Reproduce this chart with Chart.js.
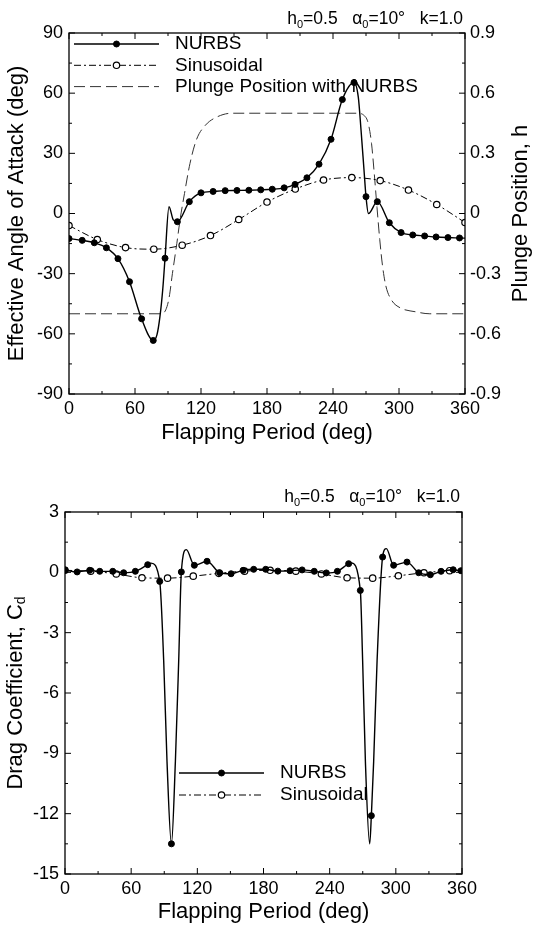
<!DOCTYPE html>
<html>
<head>
    <meta charset="utf-8">
    <title>Effective angle of attack and drag, NURBS vs sinusoidal</title>
    <style>
        body {
            margin: 0;
            background-color: #fff;
        }

        canvas {
            display: block;
        }
    </style>
    <script src="https://cdn.jsdelivr.net/npm/chart.js@4"></script>
</head>
<body>

    <canvas id="alpha-chart" width="533" height="460"></canvas>
    <canvas id="drag-chart" width="533" height="465"></canvas>

    <script>
        // axis ticks
        const periodTicks = [0, 60, 120, 180, 240, 300, 360];
        const alphaTicks = [-90, -60, -30, 0, 30, 60, 90];
        const plungeTicks = [-0.9, -0.6, -0.3, 0, 0.3, 0.6, 0.9];
        const dragTicks = [-15, -12, -9, -6, -3, 0, 3];

        // effective angle of attack, NURBS (filled markers)
        const alphaNurbsX = [0, 12, 23, 34, 44.5, 55, 66, 76.6, 87.3, 98.5, 109.4, 120, 131, 142, 152.7, 163.5, 174.3,
            184.8, 195.6, 205.5, 216.3, 227.3, 238.2, 248.5, 259.1, 270, 280.3, 291.2, 301.9, 312.5, 323.3, 333.7, 344.5, 355];
        const alphaNurbsY = [-12.5, -13.4, -14.6, -17.1, -22.5, -34, -52.5, -63.3, -22.3, -4.1, 5.9, 10.3, 11, 11.4, 11.5, 11.6, 11.8,
            12.1, 12.8, 14.5, 17.8, 24.6, 37, 56.8, 65.3, 8.4, 5.9, -4.6, -9.5, -10.7, -11.2, -11.7, -12, -12.2];
        // points of the NURBS curve that carry no marker
        const alphaNurbsBendX = [80, 82.7, 85.2, 90.9, 94.8, 263, 265.5, 268.2, 272.2, 360];
        const alphaNurbsBendY = [-60.4, -51.3, -38, 3.4, -3.2, 58, 41.5, 21.6, 0, -12.3];

        // effective angle of attack, sinusoidal (open markers)
        const alphaSinX = [0, 25.7, 51.4, 77.1, 102.9, 128.6, 154.3, 180, 205.7, 231.4, 257.1, 282.9, 308.6, 334.3, 360];
        const alphaSinY = [-6, -13, -17, -17.8, -15.8, -11, -3, 5.7, 12.2, 16.7, 17.9, 16.4, 11.7, 4.5, -4.5];

        // plunge position h (right axis)
        const plungeX = [0, 84, 88, 91, 94, 98, 101, 105, 110, 116, 124, 134, 148, 262, 268, 272, 275, 277.5, 280, 282.5,
            285, 288, 293, 301, 315, 328, 360];
        const plungeY = [-0.5, -0.5, -0.48, -0.42, -0.3, -0.15, -0.03, 0.1, 0.25, 0.37, 0.44, 0.48, 0.5, 0.5, 0.49, 0.45,
            0.35, 0.2, 0.03, -0.13, -0.26, -0.36, -0.43, -0.47, -0.49, -0.5, -0.5];

        // drag coefficient, NURBS
        const dragNurbsX = [0, 11, 22.4, 31.5, 43.3, 53.2, 63.8, 75, 85.9, 96.5, 105.5, 117.3, 128.8, 140.3, 150.6, 161.5, 171.1,
            182, 193, 204, 215, 226, 237, 247, 257.2, 267.8, 277.8, 288, 298, 310.1, 320.7, 331.3, 341, 352, 359];
        const dragNurbsY = [0.12, 0.02, 0.1, 0.05, 0.05, -0.02, 0.05, 0.38, -0.45, -13.5, 0.02, 0.35, 0.55, -0.02, -0.07, 0.1, 0.15,
            0.15, 0.06, 0.08, 0.12, 0.05, -0.03, 0.05, 0.43, -0.9, -12.1, 0.76, 0.35, 0.51, -0.02, -0.12, 0.05, 0.13, 0.08];
        const dragNurbsBendX = [78, 89.5, 92.5, 100.1, 103.1, 110, 259.5, 269.9, 272.4, 276.3, 279.9, 283, 291.4];
        const dragNurbsBendY = [0.46, -4.4, -9.4, -9.4, -4.4, 1.13, 0.47, -4.4, -9.4, -13.5, -9.4, -4.4, 1.18];

        // drag coefficient, sinusoidal
        const dragSinX = [0, 23.3, 46.5, 69.8, 93, 116.3, 139.5, 162.8, 186, 209.3, 232.5, 255.8, 279, 302.3, 325.5, 348.8];
        const dragSinY = [0.1, 0.06, -0.08, -0.27, -0.29, -0.19, -0.05, 0.06, 0.1, 0.06, -0.08, -0.27, -0.29, -0.17, -0.02, 0.08];
        const dragSinBendX = [360];
        const dragSinBendY = [0.1];

        const seriesNames = ['NURBS', 'Sinusoidal', 'Plunge Position with NURBS'];
        const noteParts = [['h', 0], ['0', 1], ['=0.5', 0], ['   ', 0], ['\u03b1', 0], ['0', 1], ['=10\u00b0', 0], ['   ', 0], ['k=1.0', 0]];
        const plungeTitle = [['Plunge Position, h', 0]];
        const dragTitle = [['Drag Coefficient, C', 0], ['d', 1]];

        const fontFamily = "'Liberation Sans', Arial, sans-serif";

        // marked points plus unmarked bend points, sorted along x
        function curve(xs, ys, bendXs, bendYs) {
            const pts = xs.map((x, i) => ({ x: x, y: ys[i], mark: true }));
            (bendXs || []).forEach((x, i) => pts.push({ x: x, y: bendYs[i], mark: false }));
            return pts.sort((a, b) => a.x - b.x);
        }

        function nurbsSet(points) {
            return {
                label: seriesNames[0],
                data: points,
                borderColor: '#000',
                borderWidth: 1.4,
                markerRadius: 3,
                pointRadius: ctx => (ctx.raw && ctx.raw.mark ? 3 : 0),
                pointBackgroundColor: '#000',
                pointBorderColor: '#000',
                pointBorderWidth: 1,
                cubicInterpolationMode: 'monotone',
                yAxisID: 'y'
            };
        }

        function sinSet(points) {
            return {
                label: seriesNames[1],
                data: points,
                borderColor: '#000',
                borderWidth: 1,
                borderDash: [7, 3, 2, 3],
                markerRadius: 3.2,
                pointRadius: ctx => (ctx.raw && ctx.raw.mark ? 3.2 : 0),
                pointBackgroundColor: '#fff',
                pointBorderColor: '#000',
                pointBorderWidth: 1.2,
                cubicInterpolationMode: 'monotone',
                yAxisID: 'y'
            };
        }

        // text with subscripts, starting at x on baseline y
        function richWidth(ctx, parts, size) {
            let w = 0;
            parts.forEach(([t, sub]) => {
                ctx.font = (sub ? Math.round(size * 0.62) : size) + 'px ' + fontFamily;
                w += ctx.measureText(t).width;
            });
            return w;
        }

        function richText(ctx, parts, size, x, y) {
            parts.forEach(([t, sub]) => {
                ctx.font = (sub ? Math.round(size * 0.62) : size) + 'px ' + fontFamily;
                ctx.fillText(t, x, sub ? y + size * 0.24 : y);
                x += ctx.measureText(t).width;
            });
        }

        // frame with inward major and minor ticks
        const framePlugin = {
            id: 'frame',
            afterDatasetsDraw(chart, args, opts) {
                const { ctx, chartArea: a, scales } = chart;
                ctx.save();
                ctx.strokeStyle = '#000';
                ctx.lineWidth = 1.3;
                ctx.setLineDash([]);
                ctx.strokeRect(a.left, a.top, a.right - a.left, a.bottom - a.top);
                ctx.lineWidth = 1;
                opts.marks.forEach(m => {
                    const scale = scales[m.axis];
                    const minor = m.major.slice(1).map((v, i) => (v + m.major[i]) / 2);
                    const lists = [[m.major, 6], [minor, 3]];
                    lists.forEach(([values, len]) => {
                        values.forEach(v => {
                            const p = scale.getPixelForValue(v);
                            m.edges.forEach(edge => {
                                ctx.beginPath();
                                if (edge === 'bottom') { ctx.moveTo(p, a.bottom); ctx.lineTo(p, a.bottom - len); }
                                if (edge === 'top') { ctx.moveTo(p, a.top); ctx.lineTo(p, a.top + len); }
                                if (edge === 'left') { ctx.moveTo(a.left, p); ctx.lineTo(a.left + len, p); }
                                if (edge === 'right') { ctx.moveTo(a.right, p); ctx.lineTo(a.right - len, p); }
                                ctx.stroke();
                            });
                        });
                    });
                });
                ctx.restore();
            }
        };

        // legend with line sample + marker
        const keyPlugin = {
            id: 'key',
            afterDraw(chart, args, opts) {
                const { ctx, chartArea: a } = chart;
                ctx.save();
                ctx.font = opts.size + 'px ' + fontFamily;
                ctx.textBaseline = 'middle';
                ctx.textAlign = 'left';
                chart.data.datasets.forEach((ds, i) => {
                    const y = a.top + opts.top + i * opts.row;
                    const x0 = a.left + opts.left;
                    const x1 = x0 + opts.len;
                    ctx.strokeStyle = ds.borderColor;
                    ctx.lineWidth = ds.borderWidth;
                    ctx.setLineDash(ds.borderDash || []);
                    ctx.beginPath();
                    ctx.moveTo(x0, y);
                    ctx.lineTo(x1, y);
                    ctx.stroke();
                    ctx.setLineDash([]);
                    if (ds.markerRadius) {
                        ctx.beginPath();
                        ctx.arc((x0 + x1) / 2, y, ds.markerRadius, 0, Math.PI * 2);
                        ctx.fillStyle = ds.pointBackgroundColor;
                        ctx.fill();
                        ctx.lineWidth = ds.pointBorderWidth;
                        ctx.strokeStyle = ds.pointBorderColor;
                        ctx.stroke();
                    }
                    ctx.fillStyle = '#000';
                    ctx.fillText(ds.label, x1 + opts.gap, y);
                });
                ctx.restore();
            }
        };

        // parameter note above the plot and rotated side titles
        const notePlugin = {
            id: 'note',
            afterDraw(chart, args, opts) {
                const { ctx, chartArea: a } = chart;
                ctx.save();
                ctx.fillStyle = '#000';
                ctx.textAlign = 'left';
                ctx.textBaseline = 'alphabetic';
                const w = richWidth(ctx, noteParts, opts.size);
                richText(ctx, noteParts, opts.size, a.right - 2 - w, a.top - opts.lift);
                (opts.sides || []).forEach(side => {
                    const tw = richWidth(ctx, side.parts, side.size);
                    ctx.save();
                    ctx.translate(side.x, (a.top + a.bottom) / 2);
                    ctx.rotate(-Math.PI / 2);
                    ctx.textBaseline = 'middle';
                    richText(ctx, side.parts, side.size, -tw / 2, 0);
                    ctx.restore();
                });
                ctx.restore();
            }
        };

        function axisTitle(text, pad) {
            return { display: true, text: text, color: '#000', font: { family: fontFamily, size: 22, lineHeight: 1.1 }, padding: pad };
        }

        function tickFont() {
            return { family: fontFamily, size: 18 };
        }

        const alphaChart = new Chart(document.getElementById('alpha-chart').getContext('2d'), {
            type: 'line',
            data: {
                datasets: [
                    nurbsSet(curve(alphaNurbsX, alphaNurbsY, alphaNurbsBendX, alphaNurbsBendY)),
                    sinSet(curve(alphaSinX, alphaSinY)),
                    {
                        label: seriesNames[2],
                        data: plungeX.map((x, i) => ({ x: x, y: plungeY[i] })),
                        borderColor: '#333',
                        borderWidth: 1,
                        borderDash: [11, 5],
                        pointRadius: 0,
                        cubicInterpolationMode: 'monotone',
                        yAxisID: 'y1'
                    }
                ]
            },
            options: {
                responsive: false,
                animation: false,
                events: [],
                layout: { padding: { left: 0, right: 0, top: 33, bottom: 0 } },
                scales: {
                    x: {
                        type: 'linear', min: 0, max: 360,
                        afterBuildTicks: s => { s.ticks = periodTicks.map(v => ({ value: v })); },
                        afterFit: s => { s.height = 66; },
                        grid: { display: false, drawTicks: false }, border: { display: false },
                        ticks: { color: '#000', font: tickFont(), padding: 4, maxRotation: 0, autoSkip: false },
                        title: axisTitle('Flapping Period (deg)', { top: 0, bottom: 15 })
                    },
                    y: {
                        position: 'left', min: -90, max: 90,
                        afterBuildTicks: s => { s.ticks = alphaTicks.map(v => ({ value: v })); },
                        afterFit: s => { s.width = 69; },
                        grid: { display: false, drawTicks: false }, border: { display: false },
                        ticks: { color: '#000', font: tickFont(), padding: 6 },
                        title: axisTitle('Effective Angle of Attack (deg)', { top: 5, bottom: 0 })
                    },
                    y1: {
                        position: 'right', min: -0.9, max: 0.9,
                        afterBuildTicks: s => { s.ticks = plungeTicks.map(v => ({ value: v })); },
                        afterFit: s => { s.width = 68; },
                        grid: { display: false, drawTicks: false }, border: { display: false },
                        ticks: { color: '#000', font: tickFont(), padding: 5, callback: v => (v === 0 ? '0' : v.toFixed(1)) }
                    }
                },
                plugins: {
                    legend: { display: false },
                    tooltip: { enabled: false },
                    frame: {
                        marks: [
                            { axis: 'x', edges: ['bottom', 'top'], major: periodTicks },
                            { axis: 'y', edges: ['left'], major: alphaTicks },
                            { axis: 'y1', edges: ['right'], major: plungeTicks }
                        ]
                    },
                    key: { left: 5, top: 11, row: 21.3, len: 85, gap: 16, size: 19 },
                    note: { size: 17.5, lift: 9, sides: [{ parts: plungeTitle, size: 22, x: 521 }] }
                }
            },
            plugins: [framePlugin, keyPlugin, notePlugin]
        });

        const dragChart = new Chart(document.getElementById('drag-chart').getContext('2d'), {
            type: 'line',
            data: {
                datasets: [
                    nurbsSet(curve(dragNurbsX, dragNurbsY, dragNurbsBendX, dragNurbsBendY)),
                    sinSet(curve(dragSinX, dragSinY, dragSinBendX, dragSinBendY))
                ]
            },
            options: {
                responsive: false,
                animation: false,
                events: [],
                layout: { padding: { left: 0, right: 71, top: 52, bottom: 0 } },
                scales: {
                    x: {
                        type: 'linear', min: 0, max: 360,
                        afterBuildTicks: s => { s.ticks = periodTicks.map(v => ({ value: v })); },
                        afterFit: s => { s.height = 51; },
                        grid: { display: false, drawTicks: false }, border: { display: false },
                        ticks: { color: '#000', font: tickFont(), padding: 4, maxRotation: 0, autoSkip: false },
                        title: axisTitle('Flapping Period (deg)', { top: 0, bottom: 1 })
                    },
                    y: {
                        position: 'left', min: -15, max: 3,
                        afterBuildTicks: s => { s.ticks = dragTicks.map(v => ({ value: v })); },
                        afterFit: s => { s.width = 65; },
                        grid: { display: false, drawTicks: false }, border: { display: false },
                        ticks: { color: '#000', font: tickFont(), padding: 6 }
                    }
                },
                plugins: {
                    legend: { display: false },
                    tooltip: { enabled: false },
                    frame: {
                        marks: [
                            { axis: 'x', edges: ['bottom', 'top'], major: periodTicks },
                            { axis: 'y', edges: ['left', 'right'], major: dragTicks }
                        ]
                    },
                    key: { left: 114, top: 261, row: 22, len: 85, gap: 16, size: 19 },
                    note: { size: 17.5, lift: 10, sides: [{ parts: dragTitle, size: 22, x: 16 }] }
                }
            },
            plugins: [framePlugin, keyPlugin, notePlugin]
        });
    </script>
</body>
</html>
